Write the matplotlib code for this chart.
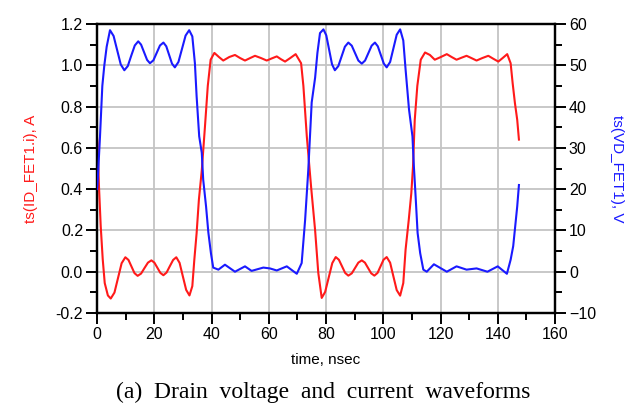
import matplotlib
matplotlib.use("Agg")
import matplotlib.pyplot as plt
from matplotlib.ticker import MultipleLocator

# Drain current (A) samples
t_id = [0.0, 0.2, 0.7, 1.3, 2.0, 2.7, 3.8, 4.8, 6.1, 7.35, 8.6, 9.9, 11.0, 12.05, 13.1,
        14.2, 15.4, 16.6, 17.8, 19.0, 20.05, 21.1, 22.15, 23.2, 24.3, 25.45, 26.6,
        27.7, 28.85, 30.0, 31.15, 32.3, 33.3, 34.0, 34.8, 35.6, 36.6, 37.7, 38.7,
        39.7, 41.0, 42.6, 44.1, 46.2, 48.2, 50.0, 51.7, 53.5, 55.2, 57.3, 59.3, 61.0,
        62.8, 64.2, 65.7, 67.5, 69.4, 71.3, 72.1, 73.3, 74.8, 76.2, 77.3, 78.5, 79.7,
        80.95, 82.2, 83.4, 84.5, 85.6, 86.7, 87.8, 89.0, 90.15, 91.3, 92.5, 93.6,
        94.7, 95.8, 96.9, 98.0, 99.05, 100.1, 101.2, 102.4, 103.55, 104.7, 105.9,
        107.0, 107.8, 108.9, 109.8, 110.4, 111.0, 111.9, 113.1, 114.6, 116.3, 118.0,
        120.1, 122.2, 123.9, 125.6, 127.4, 129.1, 130.8, 132.6, 134.6, 136.7, 138.4,
        140.2, 141.7, 143.3, 144.5, 145.2, 146.0, 146.8, 147.4]
i_d = [0.65, 0.62, 0.41, 0.22, 0.06, -0.055, -0.115, -0.13, -0.101, -0.03, 0.041, 0.07,
       0.057, 0.025, -0.007, -0.02, -0.009, 0.018, 0.044, 0.055, 0.044, 0.019, -0.006,
       -0.017, -0.004, 0.027, 0.057, 0.07, 0.043, -0.023, -0.088, -0.115, -0.07, 0.058,
       0.187, 0.35, 0.49, 0.70, 0.90, 1.027, 1.06, 1.04, 1.023, 1.04, 1.05, 1.035,
       1.023, 1.035, 1.046, 1.035, 1.023, 1.033, 1.043, 1.03, 1.018, 1.035, 1.054,
       1.01, 0.90, 0.655, 0.41, 0.20, -0.005, -0.127, -0.098, -0.028, 0.042, 0.071,
       0.058, 0.026, -0.006, -0.019, -0.008, 0.018, 0.044, 0.055, 0.044, 0.018, -0.008,
       -0.019, -0.006, 0.026, 0.058, 0.071, 0.044, -0.023, -0.089, -0.116, -0.055,
       0.107, 0.25, 0.38, 0.51, 0.735, 0.90, 1.027, 1.062, 1.05, 1.027, 1.04, 1.054,
       1.04, 1.027, 1.037, 1.046, 1.035, 1.023, 1.035, 1.046, 1.032, 1.018, 1.035,
       1.054, 1.01, 0.914, 0.817, 0.736, 0.64]

# Drain voltage (V) samples
t_vd = [0.0, 0.2, 1.05, 1.86, 2.56, 3.38, 4.54, 5.8, 7.05, 8.3, 9.55, 10.75, 11.95, 13.2,
        14.4, 15.4, 16.45, 17.5, 18.5, 19.7, 20.85, 22.0, 23.2, 24.2, 25.2, 26.2, 27.2,
        28.45, 29.7, 30.95, 32.2, 33.3, 34.2, 34.8, 35.7, 36.6, 37.1, 38.1, 38.9, 39.8,
        40.6, 42.4, 44.7, 48.2, 51.7, 54.0, 58.1, 60.4, 62.8, 66.3, 69.8, 71.5, 72.7,
        73.8, 75.0, 76.2, 77.0, 77.9, 79.1, 80.1, 81.1, 82.1, 83.1, 84.3, 85.45, 86.6,
        87.8, 89.0, 90.15, 91.3, 92.5, 93.65, 94.8, 95.95, 97.1, 98.1, 99.15, 100.2,
        101.2, 102.4, 103.55, 104.7, 105.9, 107.0, 107.8, 109.0, 110.2, 110.7, 111.3,
        112.0, 112.9, 114.0, 115.2, 117.7, 122.2, 125.6, 129.1, 132.6, 136.4, 140.0,
        143.2, 144.5, 145.4, 146.1, 146.8, 147.4]
v_d = [20.0, 21.5, 32.8, 45.0, 50.0, 54.5, 58.5, 57.1, 53.65, 50.2, 48.8, 49.8, 52.3,
       54.8, 55.8, 55.0, 53.15, 51.3, 50.5, 51.2, 53.0, 54.8, 55.5, 54.6, 52.5, 50.4,
       49.5, 50.8, 54.0, 57.2, 58.5, 57.0, 50.5, 42.5, 32.8, 28.8, 22.3, 15.8, 9.5,
       4.5, 1.0, 0.5, 1.7, 0.0, 1.3, 0.2, 1.0, 0.8, 0.3, 1.3, -0.5, 2.1, 12.5, 24.5,
       41.0, 47.0, 53.0, 57.8, 58.7, 57.25, 53.75, 50.25, 48.8, 49.8, 52.15, 54.5,
       55.5, 54.75, 52.95, 51.15, 50.4, 51.15, 52.95, 54.75, 55.5, 54.6, 52.5, 50.4,
       49.5, 50.8, 54.1, 57.4, 58.7, 56.0, 49.0, 39.3, 32.8, 25.5, 18.3, 9.4, 4.5,
       0.5, 0.0, 1.8, 0.0, 1.3, 0.5, 0.8, 0.0, 1.3, -0.5, 2.9, 6.2, 11.0, 15.8, 21.0]

left_label = "ts(ID_FET1.i), A"
right_label = "ts(VD_FET1), V"
x_label = "time, nsec"
caption = "(a)  Drain  voltage  and  current  waveforms"

fig = plt.figure(figsize=(6.4, 4.07), dpi=100)
ax = fig.add_axes([97/640, 94/407, 458/640, 289/407])
ax2 = ax.twinx()

sans = "Liberation Sans"
red = "#ff1a1a"
blue = "#1a1aff"

ax.plot(t_id, i_d, color=red, lw=1.5, zorder=3)
ax2.plot(t_vd, v_d, color=blue, lw=1.5, zorder=3)

ax.set_xlim(0, 160)
ax.set_ylim(-0.2, 1.2)
ax2.set_ylim(-10, 60)

ax.xaxis.set_major_locator(MultipleLocator(20))
ax.xaxis.set_minor_locator(MultipleLocator(10))
ax.yaxis.set_major_locator(MultipleLocator(0.2))
ax.yaxis.set_minor_locator(MultipleLocator(0.1))
ax2.yaxis.set_major_locator(MultipleLocator(10))
ax2.yaxis.set_minor_locator(MultipleLocator(5))

ax.yaxis.set_major_formatter(plt.FuncFormatter(lambda v, p: f"{v:.1f}"))

ax.grid(True, which="major", color="#c4c4c4", lw=1.3, zorder=0)
ax.set_axisbelow(True)

for a in (ax, ax2):
    for s in a.spines.values():
        s.set_color("black")
        s.set_linewidth(1.6)
    a.tick_params(which="major", direction="out", length=8, width=1.4, color="black",
                  labelsize=11.5, pad=2)
    a.tick_params(which="minor", direction="out", length=5, width=1.4, color="black")
    for lbl in a.get_xticklabels() + a.get_yticklabels():
        lbl.set_fontfamily(sans)

ax.set_ylabel(left_label, color=red, fontsize=11, family=sans, labelpad=13)
ax2.set_ylabel(right_label, color=blue, fontsize=11, family=sans, rotation=-90,
               labelpad=20)
ax.set_xlabel(x_label, fontsize=11, family=sans, labelpad=8)

fig.text(0.5055, 0.022, caption, ha="center", va="baseline", fontsize=17,
         family="Liberation Serif")

fig.savefig("out.png", dpi=100)
